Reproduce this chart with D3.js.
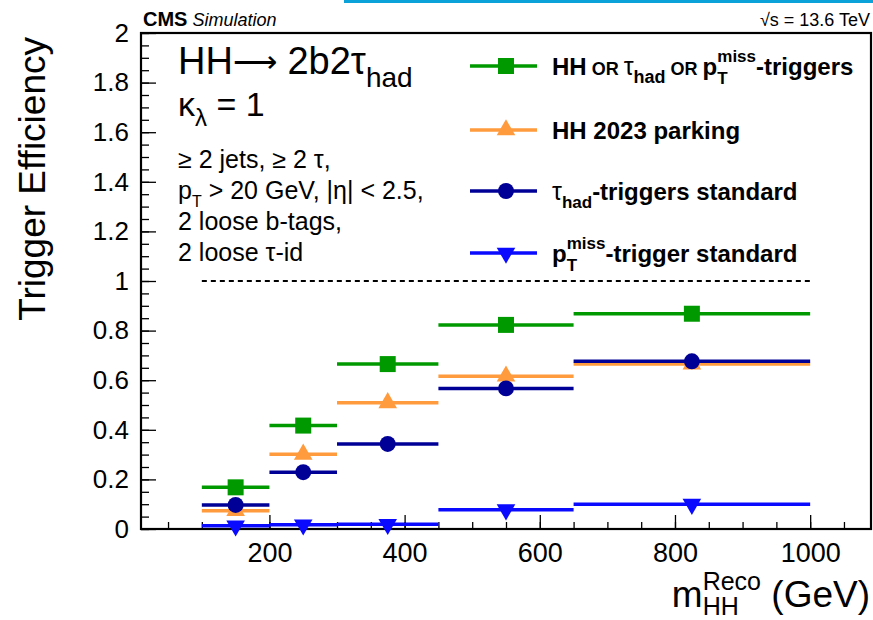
<!DOCTYPE html>
<html>
<head>
<meta charset="utf-8">
<script src="https://cdn.jsdelivr.net/npm/d3@7"></script>
<style>
    body { margin: 0; background: #fff; }
    svg text { font-family: "Liberation Sans", Arial, Helvetica, sans-serif; fill: #000; white-space: pre; }
</style>
</head>
<body>
<div id="chart"></div>
<script>
// bins of reconstructed m_HH (GeV)
const binEdges = [100, 200, 300, 450, 650, 1000]

// efficiencies per bin
const effCombined = [0.168, 0.417, 0.665, 0.823, 0.868]
const effParking = [0.074, 0.301, 0.509, 0.616, 0.665]
const effTau = [0.097, 0.229, 0.343, 0.567, 0.676]
const effMet = [0.013, 0.017, 0.019, 0.078, 0.100]

const xTickValues = [200, 400, 600, 800, 1000]
const yTickValues = [0, 0.2, 0.4, 0.6, 0.8, 1, 1.2, 1.4, 1.6, 1.8, 2]

const cutLines = ["≥ 2 jets, ≥ 2 τ,", null, "2 loose b-tags,", "2 loose τ-id"]

const series = [
    { name: "combined", values: effCombined, color: "#009a00", symbol: d3.symbolSquare, size: 256, rot: 0 },
    { name: "parking", values: effParking, color: "#ff9b3d", symbol: d3.symbolTriangle, size: 150, rot: 0 },
    { name: "tau", values: effTau, color: "#000096", symbol: d3.symbolCircle, size: 200, rot: 0 },
    { name: "met", values: effMet, color: "#0a0aff", symbol: d3.symbolTriangle, size: 150, rot: 180 }
]

const W = 873, H = 620
const frame = { left: 141, right: 871, top: 33, bottom: 529 }

const svg = d3.select("#chart").append("svg")
    .attr("width", W)
    .attr("height", H)

// blue strip at the very top of the page
svg.append("rect")
    .attr("x", 344).attr("y", 0)
    .attr("width", W - 344).attr("height", 3)
    .attr("fill", "#0aa2d9")

const x = d3.scaleLinear().domain([10, 1090]).range([frame.left, frame.right])
const y = d3.scaleLinear().domain([0, 2]).range([frame.bottom, frame.top])

// writes a run of text pieces; a piece with hold:true does not advance (stacked sup/sub)
function rich(g, x0, y0, parts) {
    let cx = x0
    let held = 0
    parts.forEach(p => {
        const t = g.append("text")
            .attr("x", cx)
            .attr("y", y0 + (p.dy || 0))
            .attr("xml:space", "preserve")
            .style("font-size", p.fs + "px")
            .style("font-weight", p.w || "normal")
            .style("font-style", p.it || "normal")
            .text(p.s)
        const w = t.node().getComputedTextLength()
        if (p.hold) {
            held = w
        } else {
            cx += Math.max(w, held)
            held = 0
        }
    })
    return cx - x0
}

// axes (ticks inside the frame, ROOT style)
const yMinor = d3.range(0, 2.0001, 0.05)
svg.append("g")
    .attr("transform", "translate(" + frame.left + ",0)")
    .call(d3.axisLeft(y).tickValues(yMinor).tickSize(-8).tickFormat(""))
    .call(g => g.select(".domain").remove())
    .call(g => g.selectAll("line").attr("stroke-width", 1.3))
svg.append("g")
    .attr("transform", "translate(" + frame.left + ",0)")
    .call(d3.axisLeft(y).tickValues(yTickValues).tickSize(-15).tickPadding(12)
        .tickFormat(d => String(+d.toFixed(1))))
    .call(g => g.select(".domain").remove())
    .call(g => g.selectAll("line").attr("stroke-width", 1.3))
    .call(g => g.selectAll("text").style("font-size", "26px").attr("fill", "#000"))

const xMinor = d3.range(50, 1090, 50)
svg.append("g")
    .attr("transform", "translate(0," + frame.bottom + ")")
    .call(d3.axisBottom(x).tickValues(xMinor).tickSize(-7).tickFormat(""))
    .call(g => g.select(".domain").remove())
    .call(g => g.selectAll("line").attr("stroke-width", 1.3))
svg.append("g")
    .attr("transform", "translate(0," + frame.bottom + ")")
    .call(d3.axisBottom(x).tickValues(xTickValues).tickSize(-14).tickPadding(14).tickFormat(d3.format("d")))
    .call(g => g.select(".domain").remove())
    .call(g => g.selectAll("line").attr("stroke-width", 1.3))
    .call(g => g.selectAll("text").style("font-size", "27px").attr("fill", "#000").attr("dy", "0.72em"))

// frame
svg.append("rect")
    .attr("x", frame.left).attr("y", frame.top)
    .attr("width", frame.right - frame.left).attr("height", frame.bottom - frame.top)
    .attr("fill", "none").attr("stroke", "#000").attr("stroke-width", 2.2)

// efficiency = 1 reference
svg.append("line")
    .attr("x1", x(binEdges[0])).attr("x2", x(binEdges[binEdges.length - 1]))
    .attr("y1", y(1)).attr("y2", y(1))
    .attr("stroke", "#000").attr("stroke-width", 2)
    .attr("stroke-dasharray", "5,4")

// series: horizontal bin bars + marker at bin centre
const bins = d3.range(binEdges.length - 1).map(i => ({ lo: binEdges[i], hi: binEdges[i + 1] }))
series.forEach(s => {
    const g = svg.append("g").attr("class", "series-" + s.name)
    g.selectAll("line")
        .data(bins)
        .enter()
        .append("line")
        .attr("x1", d => x(d.lo))
        .attr("x2", d => x(d.hi))
        .attr("y1", (d, i) => y(s.values[i]))
        .attr("y2", (d, i) => y(s.values[i]))
        .attr("stroke", s.color)
        .attr("stroke-width", 3.5)
    g.selectAll("path")
        .data(bins)
        .enter()
        .append("path")
        .attr("d", d3.symbol(s.symbol, s.size))
        .attr("transform", (d, i) => "translate(" + x((d.lo + d.hi) / 2) + "," + y(s.values[i]) + ") rotate(" + s.rot + ")")
        .attr("fill", s.color)
})

// header
rich(svg, 143, 26, [
    { s: "CMS", fs: 20, w: "bold" },
    { s: " ", fs: 18 },
    { s: "Simulation", fs: 18, it: "italic" }
])
const sqrtG = svg.append("g")
const sqrtW = rich(sqrtG, 0, 26, [
    { s: "√s = 13.6 TeV", fs: 18 }
])
sqrtG.attr("transform", "translate(" + (870 - sqrtW) + ",0)")

// process label
rich(svg, 178, 74, [
    { s: "HH", fs: 38 },
    { s: "⟶", fs: 31, dy: -2 },
    { s: " 2b2τ", fs: 38 },
    { s: "had", fs: 28, dy: 13 }
])
rich(svg, 178, 116, [
    { s: "κ", fs: 34 },
    { s: "λ", fs: 24, dy: 10 },
    { s: " = 1", fs: 34 }
])

// selection text
const cutY = [168, 199, 230, 261]
cutLines.forEach((t, i) => {
    if (t) rich(svg, 178, cutY[i], [{ s: t, fs: 25 }])
})
rich(svg, 178, cutY[1], [
    { s: "p", fs: 25 },
    { s: "T", fs: 16, dy: 8 },
    { s: " > 20 GeV, |η| < 2.5,", fs: 25 }
])

// legend
const legendRows = [
    { s: series[0], y: 66, parts: [
        { s: "HH", fs: 24, w: "bold" },
        { s: " OR ", fs: 18, w: "bold" },
        { s: "τ", fs: 25 },
        { s: "had", fs: 18, w: "bold", dy: 8 },
        { s: " OR ", fs: 18, w: "bold" },
        { s: "p", fs: 24, w: "bold" },
        { s: "miss", fs: 17, w: "bold", dy: -13, hold: true },
        { s: "T", fs: 17, w: "bold", dy: 9 },
        { s: "-triggers", fs: 24, w: "bold" }
    ] },
    { s: series[1], y: 130, parts: [
        { s: "HH 2023 parking", fs: 24, w: "bold" }
    ] },
    { s: series[2], y: 191, parts: [
        { s: "τ", fs: 25 },
        { s: "had", fs: 17, w: "bold", dy: 8 },
        { s: "-triggers standard", fs: 24, w: "bold" }
    ] },
    { s: series[3], y: 253, parts: [
        { s: "p", fs: 24, w: "bold" },
        { s: "miss", fs: 17, w: "bold", dy: -13, hold: true },
        { s: "T", fs: 17, w: "bold", dy: 9 },
        { s: "-trigger standard", fs: 24, w: "bold" }
    ] }
]
legendRows.forEach(r => {
    const g = svg.append("g")
    g.append("line")
        .attr("x1", 470).attr("x2", 537)
        .attr("y1", r.y).attr("y2", r.y)
        .attr("stroke", r.s.color).attr("stroke-width", 3.5)
    g.append("path")
        .attr("d", d3.symbol(r.s.symbol, r.s.size))
        .attr("transform", "translate(506," + r.y + ") rotate(" + r.s.rot + ")")
        .attr("fill", r.s.color)
    rich(g, 552, r.y + 8.5, r.parts)
})

// axis titles
svg.append("text")
    .attr("transform", "translate(45," + (frame.top + 4) + ") rotate(-90)")
    .attr("text-anchor", "end")
    .style("font-size", "37px")
    .text("Trigger Efficiency")

const xt = svg.append("g")
const xtW = rich(xt, 0, 607, [
    { s: "m", fs: 37 },
    { s: "Reco", fs: 25, dy: -17, hold: true },
    { s: "HH", fs: 25, dy: 8 },
    { s: " (GeV)", fs: 37 }
])
xt.attr("transform", "translate(" + (870 - xtW) + ",0)")
</script>
</body>
</html>
